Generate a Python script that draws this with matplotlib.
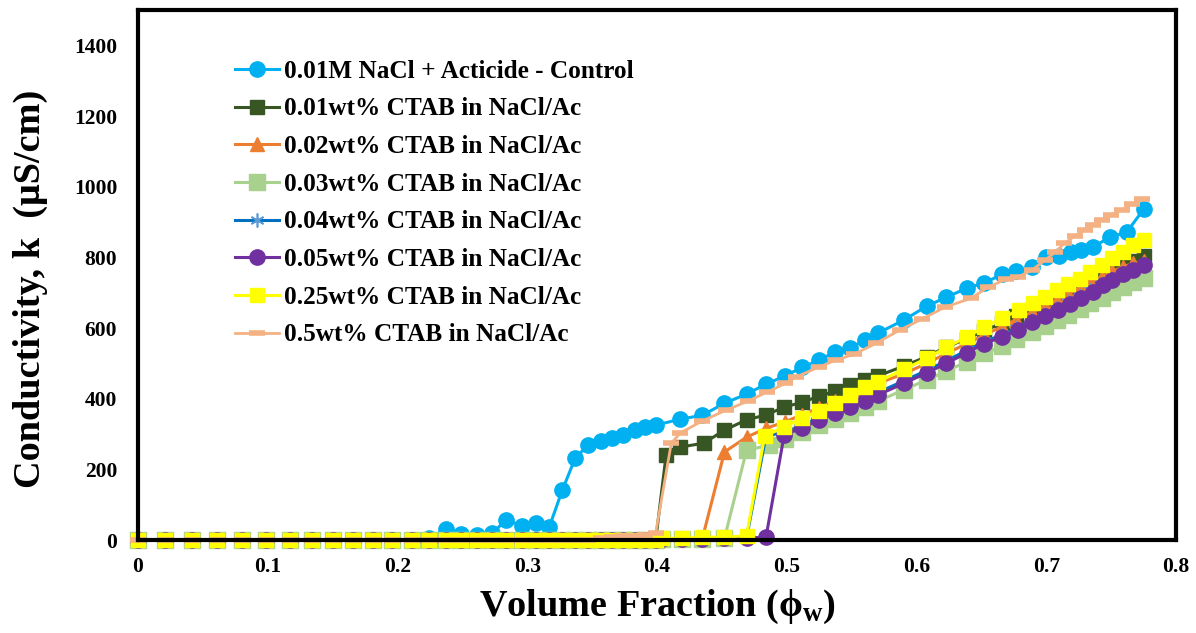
import matplotlib
matplotlib.use("Agg")
import matplotlib.pyplot as plt

plt.rcParams["font.family"] = ["Liberation Serif", "DejaVu Serif"]
plt.rcParams["font.weight"] = "bold"
plt.rcParams["mathtext.fontset"] = "custom"
plt.rcParams["mathtext.rm"] = "Liberation Serif:bold"
plt.rcParams["mathtext.it"] = "Liberation Serif:bold"
plt.rcParams["mathtext.bf"] = "Liberation Serif:bold"

# Water volume fraction before inversion (shared by all runs)
phi_low = [0, 0.021, 0.042, 0.061, 0.080, 0.099, 0.117, 0.134, 0.150, 0.166,
           0.181, 0.196, 0.211, 0.224, 0.237, 0.249, 0.261, 0.273, 0.284, 0.296,
           0.307, 0.317, 0.327, 0.337, 0.347, 0.357, 0.365, 0.374, 0.383, 0.391,
           0.399]
k_flat = [0, 0, 0, 0, 0, 0, 0, 0, 0, 0,
          0, 0, 0, 0, 0, 0, 0, 0, 0, 0,
          0, 0, 0, 0, 0, 0, 0, 0, 0, 0,
          0]

# 0.01M NaCl + Acticide - Control
phi_ctrl = phi_low + [0.418, 0.435, 0.452, 0.469, 0.484, 0.499, 0.512, 0.525, 0.537, 0.549,
                      0.560, 0.570, 0.590, 0.608, 0.623, 0.639, 0.652, 0.666, 0.677, 0.689,
                      0.700, 0.710, 0.719, 0.727, 0.736, 0.749, 0.762, 0.775]
k_ctrl = [0, 0, 0, 0, 0, 0, 0, 0, 0, 0, 0, 0, 0, 5, 30, 17, 14, 20, 57, 40,
          48, 37, 141, 232, 269, 280, 288, 297, 311, 320, 325,
          342, 353, 387, 413, 441, 465, 489, 509, 532, 543,
          566, 585, 622, 662, 687, 713, 727, 752, 760, 772,
          800, 803, 815, 820, 829, 857, 871, 936]

# 0.01wt% CTAB
phi_01 = phi_low + [0.407, 0.418, 0.436, 0.452, 0.469, 0.484, 0.498, 0.512, 0.525, 0.537,
                    0.549, 0.560, 0.570, 0.590, 0.608, 0.623, 0.639, 0.652, 0.666, 0.677,
                    0.689, 0.700, 0.710, 0.719, 0.727, 0.736, 0.744, 0.751, 0.759, 0.767,
                    0.775]
k_01 = k_flat + [240, 263, 274, 311, 340, 354, 376, 390, 407, 421,
                 438, 452, 464, 492, 519, 546, 570, 592, 614, 634,
                 652, 670, 688, 703, 718, 733, 748, 762, 776, 790,
                 803]

# 0.02wt% CTAB
phi_02 = phi_low + [0.404, 0.419, 0.435, 0.452, 0.469, 0.484, 0.499, 0.512, 0.525, 0.537,
                    0.549, 0.560, 0.570, 0.590, 0.608, 0.623, 0.639, 0.652, 0.666, 0.677,
                    0.689, 0.699, 0.708, 0.717, 0.726, 0.734, 0.743, 0.751, 0.759, 0.767,
                    0.775]
k_02 = k_flat + [2, 3, 5, 249, 291, 316, 335, 355, 374, 393,
                 411, 428, 443, 470, 500, 528, 556, 580, 604, 624,
                 644, 662, 680, 697, 713, 729, 745, 760, 773, 783,
                 790]

# 0.03wt% CTAB
phi_03 = phi_low + [0.404, 0.419, 0.435, 0.452, 0.469, 0.486, 0.499, 0.512, 0.525, 0.537,
                    0.549, 0.560, 0.570, 0.590, 0.608, 0.623, 0.639, 0.652, 0.666, 0.677,
                    0.689, 0.699, 0.708, 0.717, 0.726, 0.734, 0.743, 0.751, 0.759, 0.767,
                    0.775]
k_03 = k_flat + [2, 3, 4, 5, 254, 268, 285, 305, 325, 343,
                 360, 376, 392, 425, 453, 478, 505, 528, 548, 568,
                 588, 605, 622, 638, 654, 670, 686, 701, 715, 729,
                 741]

# 0.04wt% CTAB
phi_04 = phi_low + [0.404, 0.419, 0.435, 0.452, 0.469, 0.484, 0.499, 0.512, 0.525, 0.537,
                    0.549, 0.560, 0.570, 0.590, 0.608, 0.623, 0.639, 0.652, 0.666, 0.677,
                    0.689, 0.699, 0.708, 0.717, 0.726, 0.734, 0.743, 0.751, 0.759, 0.767,
                    0.775]
k_04 = k_flat + [2, 3, 4, 5, 6, 295, 305, 325, 346, 366,
                 383, 401, 417, 450, 480, 507, 537, 562, 580, 600,
                 622, 639, 657, 673, 690, 707, 725, 740, 756, 768,
                 782]

# 0.05wt% CTAB
phi_05 = phi_low + [0.404, 0.419, 0.435, 0.452, 0.469, 0.484, 0.498, 0.512, 0.525, 0.537,
                    0.549, 0.560, 0.570, 0.590, 0.608, 0.623, 0.639, 0.652, 0.666, 0.678,
                    0.689, 0.699, 0.709, 0.718, 0.727, 0.736, 0.744, 0.751, 0.759, 0.767,
                    0.775]
k_05 = k_flat + [2, 3, 4, 5, 6, 8, 297, 318, 339, 359,
                 376, 394, 410, 443, 473, 500, 530, 556, 574, 594,
                 617, 633, 651, 668, 685, 702, 721, 735, 752, 764,
                 778]

# 0.25wt% CTAB
phi_25 = phi_low + [0.404, 0.419, 0.435, 0.452, 0.469, 0.483, 0.498, 0.512, 0.525, 0.537,
                    0.549, 0.560, 0.570, 0.590, 0.608, 0.623, 0.639, 0.652, 0.666, 0.679,
                    0.690, 0.699, 0.708, 0.717, 0.726, 0.734, 0.743, 0.751, 0.759, 0.767,
                    0.775]
k_25 = k_flat + [5, 5, 8, 8, 12, 294, 320, 345, 365, 388,
                 410, 433, 447, 483, 514, 545, 575, 602, 628, 651,
                 670, 687, 707, 725, 740, 758, 777, 797, 815, 834,
                 848]

# 0.5wt% CTAB
phi_5 = phi_low + [0.411, 0.418, 0.435, 0.453, 0.470, 0.485, 0.499, 0.507, 0.525, 0.538,
                   0.552, 0.569, 0.587, 0.604, 0.622, 0.642, 0.655, 0.669, 0.678, 0.689,
                   0.699, 0.707, 0.714, 0.722, 0.730, 0.736, 0.743, 0.750, 0.758, 0.766,
                   0.774]
k_5 = [0, 0, 0, 0, 0, 0, 0, 0, 0, 0, 0, 0, 0, 0, 0, 0, 0, 0, 0, 0,
       0, 0, 0, 0, 0, 5, 8, 10, 12, 15, 20,
       274, 303, 337, 367, 393, 419, 443, 461, 490, 509,
       526, 557, 594, 625, 659, 684, 715, 738, 744, 764,
       792, 815, 840, 860, 877, 891, 905, 921, 933, 950,
       964]

labels = ["0.01M NaCl + Acticide - Control",
          "0.01wt% CTAB in NaCl/Ac",
          "0.02wt% CTAB in NaCl/Ac",
          "0.03wt% CTAB in NaCl/Ac",
          "0.04wt% CTAB in NaCl/Ac",
          "0.05wt% CTAB in NaCl/Ac",
          "0.25wt% CTAB in NaCl/Ac",
          "0.5wt% CTAB in NaCl/Ac"]

fig = plt.figure(figsize=(11.96, 6.33), dpi=100)
ax = fig.add_axes([138 / 1196, 93 / 633, 1038 / 1196, 530 / 633])

common = dict(lw=2.2, clip_on=False)
ax.plot(phi_ctrl, k_ctrl, marker="o", ms=11, color="#00B0F0", label=labels[0], **common)
ax.plot(phi_01, k_01, marker="s", ms=10.5, color="#375623", label=labels[1], **common)
ax.plot(phi_02, k_02, marker="^", ms=10, color="#ED7D31", label=labels[2], **common)
ax.plot(phi_03, k_03, marker="s", ms=12, color="#A9D18E", label=labels[3], **common)
ax.plot(phi_04, k_04, marker=(6, 2, 0), ms=10, color="#0070C0",
        mec="#5B9BD5", mfc="#5B9BD5", mew=1.2, label=labels[4], **common)
ax.plot(phi_05, k_05, marker="o", ms=11, color="#7030A0", label=labels[5], **common)
ax.plot(phi_25, k_25, marker="s", ms=10, color="#FFFF00", label=labels[6], **common)
ax.plot(phi_5, k_5, marker="_", ms=11, mew=4, color="#F4B183", label=labels[7],
        lw=2.0, clip_on=False)

ax.set_xlim(0, 0.8)
ax.set_ylim(0, 1500)
ax.set_xticks([0, 0.1, 0.2, 0.3, 0.4, 0.5, 0.6, 0.7, 0.8])
ax.set_xticklabels(["0", "0.1", "0.2", "0.3", "0.4", "0.5", "0.6", "0.7", "0.8"])
ax.set_yticks([0, 200, 400, 600, 800, 1000, 1200, 1400])
ax.tick_params(axis="both", length=0, labelsize=15.5)
ax.tick_params(axis="y", pad=15)
ax.tick_params(axis="x", pad=12)
for sp in ax.spines.values():
    sp.set_linewidth(3)
    sp.set_color("black")

ax.set_xlabel(r"Volume Fraction ($\phi_\mathregular{w}$)", fontsize=27.5, fontweight="bold", labelpad=8)
ax.set_ylabel("Conductivity, k  (\u03bcS/cm)", fontsize=27.5, fontweight="bold")
ax.yaxis.set_label_coords(-0.087, 0.474)

ax.legend(loc="upper left", bbox_to_anchor=(0.093, 0.906), frameon=False,
          prop={"family": "Liberation Serif", "weight": "bold", "size": 18.2},
          handlelength=1.75, handletextpad=0.2, labelspacing=0.58,
          borderpad=0, borderaxespad=0)

fig.savefig("out.png", dpi=100)
